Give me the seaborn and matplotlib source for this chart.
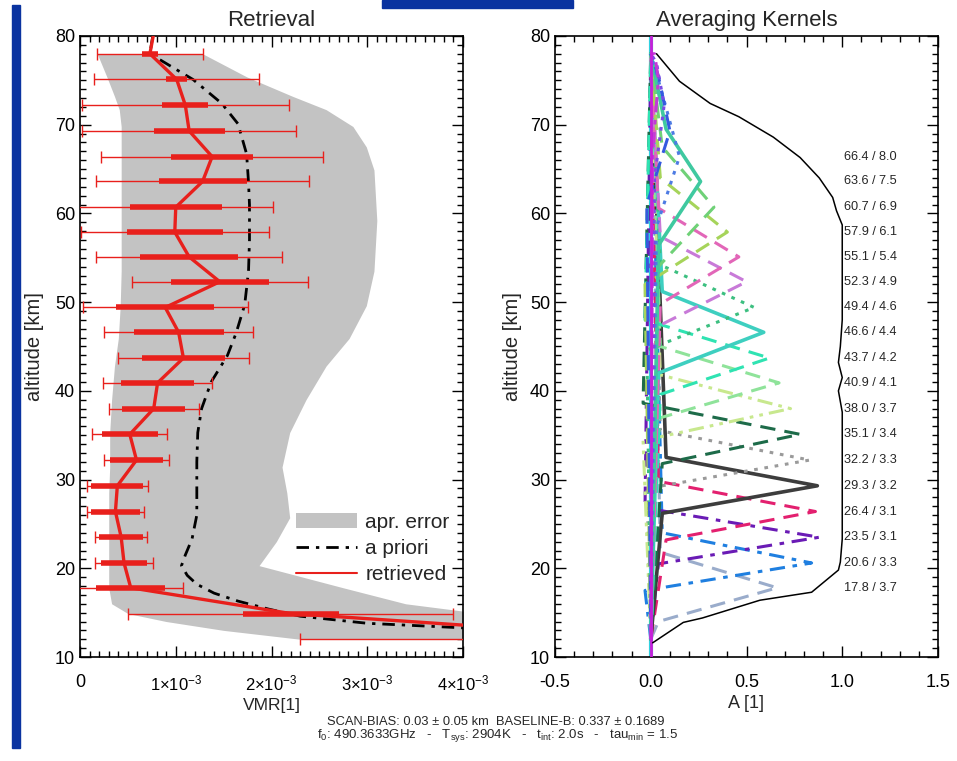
import numpy as np
import pandas as pd
import matplotlib
matplotlib.use("Agg")
import matplotlib.pyplot as plt
import seaborn as sns
from matplotlib.patches import Patch, Rectangle
from matplotlib.lines import Line2D
from matplotlib.ticker import MultipleLocator

# ---------------- data ----------------
# retrieval grid (km) and retrieved VMR (units of 1e-3)
levels = [80.9, 78.0, 75.1, 72.2, 69.3, 66.4, 63.6, 60.7, 57.9, 55.1, 52.3, 49.4,
          46.6, 43.7, 40.9, 38.0, 35.1, 32.2, 29.3, 26.4, 23.5, 20.6, 17.8, 14.9, 12.0]
retrieved = [0.78, 0.73, 1.01, 1.10, 1.14, 1.38, 1.28, 1.00, 0.99, 1.14, 1.46, 0.89,
             1.03, 1.08, 0.81, 0.77, 0.52, 0.59, 0.39, 0.37, 0.43, 0.46, 0.53, 2.20, 6.20]
total_err = [0.60, 0.55, 0.86, 1.08, 1.12, 1.16, 1.11, 1.02, 0.98, 0.97, 0.92, 0.86,
             0.78, 0.68, 0.57, 0.47, 0.39, 0.34, 0.32, 0.30, 0.27, 0.30, 0.55, 1.70, 3.90]
meas_err = [0.10, 0.08, 0.11, 0.24, 0.37, 0.43, 0.46, 0.48, 0.50, 0.51, 0.51, 0.51,
            0.47, 0.43, 0.38, 0.33, 0.29, 0.28, 0.27, 0.26, 0.23, 0.24, 0.36, 0.50, 1.50]

apriori_alt = [80.0, 78.0, 75.1, 72.4, 70.1, 66.7, 63.5, 61.0, 57.0, 53.5, 49.7, 46.5,
               44.0, 41.0, 38.0, 35.3, 32.0, 29.0, 26.0, 23.3, 21.5, 20.3, 19.2, 18.2,
               17.2, 16.3, 15.4, 14.6, 13.8, 12.0]
apriori_vmr = [0.76, 0.73, 1.18, 1.48, 1.65, 1.74, 1.76, 1.77, 1.77, 1.76, 1.72, 1.63,
               1.54, 1.37, 1.27, 1.23, 1.22, 1.22, 1.22, 1.17, 1.10, 1.06, 1.12, 1.22,
               1.40, 1.65, 1.97, 2.30, 3.00, 6.50]

band_alt = [78.0, 75.4, 73.2, 71.7, 69.8, 67.5, 64.9, 59.2, 53.5, 49.6, 45.9, 42.8, 39.0,
            35.3, 31.4, 28.5, 25.7, 23.0, 20.3, 17.8, 16.0, 14.9, 14.0, 13.0, 12.0]
band_lo = [0.18, 0.28, 0.36, 0.41, 0.43, 0.43, 0.43, 0.43, 0.43, 0.42, 0.40, 0.36, 0.33,
           0.31, 0.31, 0.30, 0.30, 0.30, 0.30, 0.30, 0.33, 0.50, 0.90, 1.50, 2.30]
band_hi = [1.28, 1.74, 2.22, 2.57, 2.85, 2.99, 3.07, 3.10, 3.07, 2.99, 2.81, 2.57, 2.36,
           2.19, 2.11, 2.16, 2.19, 2.05, 1.87, 2.75, 3.40, 4.20, 5.50, 7.00, 9.00]

vmr_ticks = [0, 1, 2, 3, 4]
vmr_ticklabels = ["0", "1×10$^{-3}$", "2×10$^{-3}$", "3×10$^{-3}$", "4×10$^{-3}$"]

# averaging kernels: peak altitude / resolution labels and vertices
ak_alt = [17.8, 20.6, 23.5, 26.4, 29.3, 32.2, 35.1, 38.0, 40.9, 43.7, 46.6, 49.4,
          52.3, 55.1, 57.9, 60.7, 63.6, 66.4, 69.3, 72.2, 75.1]
ak_res = [3.7, 3.3, 3.1, 3.1, 3.2, 3.3, 3.4, 3.7, 4.1, 4.2, 4.4, 4.6,
          4.9, 5.4, 6.1, 6.9, 7.5, 8.0, None, None, None]
ak_peak = [0.66, 0.84, 0.88, 0.86, 0.87, 0.83, 0.78, 0.73, 0.67, 0.62, 0.59, 0.54,
           0.50, 0.46, 0.40, 0.33, 0.26, 0.15, 0.10, 0.07, 0.04]
ak_lo_alt = [14.0, 17.5, 20.5, 23.2, 26.2, 29.0, 31.8, 34.4, 36.9, 39.6, 42.0, 44.6,
             47.3, 49.8, 52.0, 54.0, 56.4, 58.5, 61.0, 64.0, 67.0]
ak_lo_val = [0.04, -0.03, 0.04, 0.08, 0.06, -0.02, 0.06, -0.04, 0.04, 0.05, 0.04, -0.02,
             0.04, 0.05, -0.03, 0.04, 0.04, 0.03, -0.02, 0.02, 0.01]
ak_hi_alt = [21.8, 24.0, 26.8, 29.8, 32.5, 35.5, 38.6, 41.8, 45.0, 48.0, 51.2, 54.2,
             57.4, 60.6, 64.0, 67.5, 69.5, 73.5, 75.5, 77.0, 78.0]
ak_hi_val = [0.05, 0.06, -0.03, 0.04, 0.08, 0.05, -0.04, 0.05, 0.05, -0.03, 0.06, 0.05,
             0.05, 0.04, 0.05, 0.06, 0.08, 0.06, 0.04, 0.03, 0.02]
ak_end_alt = [12.0, 78.0]
ak_end_val = [0.0, 0.0]
flat_alt = [10.0, 80.0]
flat_val = [0.0, 0.0]

# measurement response (sum of kernels)
mr_alt = [78.0, 74.9, 72.4, 70.9, 68.6, 66.3, 64.0, 61.8, 60.3, 58.7, 48.0, 45.0, 43.2,
          41.5, 40.0, 37.6, 23.3, 20.7, 19.8, 17.3, 16.4, 14.4, 13.9, 11.6]
mr_val = [0.03, 0.15, 0.31, 0.46, 0.64, 0.78, 0.88, 0.95, 0.97, 1.00, 1.00, 0.99, 0.98,
          1.00, 0.98, 1.00, 1.00, 0.99, 0.98, 0.84, 0.57, 0.27, 0.17, 0.01]

# ---------------- styles ----------------
ak_colors = ["#9aaccb", "#1f7fe0", "#6a1bb5", "#e3206f", "#3d3d3d", "#9a9a9a", "#1d6b49",
             "#c8e88e", "#8fe39a", "#2fe3b2", "#3ecfc0", "#3cbf80", "#c87ad8", "#e266b8",
             "#a6d45a", "#6fd177", "#3fc9a0", "#4d7be3", "#3559e0", "#7a4be6", "#c23bd6"]
DASH = (0, (5, 3))
DDOT = (0, (5, 2.5, 1.5, 2.5))
DOT = (0, (1.2, 2.2))
D3 = (0, (5, 2, 1.2, 2, 1.2, 2))
ak_styles = [DASH, DDOT, DDOT, DASH, "-", DOT, DASH, D3, DASH, DASH, "-", DOT,
             DASH, DASH, DASH, DASH, "-", DOT, DASH, DOT, DDOT]

RED = "#e8201c"
GRAY = "#c3c3c3"
APRI_DASH = (0, (4.5, 2.5, 1.2, 2.5))

sns.set_theme(style="ticks")
plt.rcParams["font.family"] = ["Liberation Sans", "DejaVu Sans"]
plt.rcParams["mathtext.fontset"] = "custom"
plt.rcParams["mathtext.rm"] = "Liberation Sans"
plt.rcParams["mathtext.it"] = "Liberation Sans"
plt.rcParams["axes.linewidth"] = 1.2

W, H = 957, 761
fig = plt.figure(figsize=(W / 100, H / 100), dpi=100)
fig.patch.set_facecolor("white")

ax1 = fig.add_axes([80 / W, 1 - 657 / H, 383 / W, 621 / H])
ax2 = fig.add_axes([555 / W, 1 - 657 / H, 383 / W, 621 / H])

# slide decoration
fig.patches.append(Rectangle((12 / W, 1 - 748 / H), 8 / W, 743 / H,
                             transform=fig.transFigure, color="#0a33a0", zorder=0))
fig.patches.append(Rectangle((382 / W, 1 - 8 / H), 191 / W, 8 / H,
                             transform=fig.transFigure, color="#0a33a0", zorder=0))

# ---------------- left panel ----------------
ax1.fill_betweenx(band_alt, band_lo, band_hi, color=GRAY, lw=0, zorder=1)
sns.lineplot(x=apriori_vmr, y=apriori_alt, orient="y", sort=False, estimator=None,
             color="black", lw=2.0, linestyle=APRI_DASH, ax=ax1, zorder=2)
ax1.errorbar(retrieved, levels, xerr=total_err, fmt="none", ecolor=RED, elinewidth=1.0,
             capsize=4, capthick=1.0, zorder=3)
ax1.errorbar(retrieved, levels, xerr=meas_err, fmt="none", ecolor=RED, elinewidth=4.0,
             capsize=0, zorder=3)
sns.lineplot(x=retrieved, y=levels, orient="y", sort=False, estimator=None,
             color=RED, lw=2.4, ax=ax1, zorder=4)

ax1.set_xlim(0, 4)
ax1.set_ylim(10, 80)
ax1.set_xticks(vmr_ticks)
ax1.set_xticklabels(vmr_ticklabels)
ax1.xaxis.set_minor_locator(MultipleLocator(0.1))
ax1.set_yticks(range(10, 81, 10))
ax1.yaxis.set_minor_locator(MultipleLocator(1))
ax1.set_title("Retrieval", fontsize=16, pad=7)
ax1.set_xlabel("VMR[1]", fontsize=12.5, labelpad=3)
ax1.set_ylabel("altitude [km]", fontsize=14.5, labelpad=8)

handles = [Patch(facecolor=GRAY, edgecolor="none"),
           Line2D([], [], color="black", lw=2.0, linestyle=APRI_DASH),
           Line2D([], [], color=RED, lw=1.5)]
ax1.legend(handles, ["apr. error", "a priori", "retrieved"], loc="upper left",
           bbox_to_anchor=(0.565, 0.232), frameon=False, fontsize=15,
           handlelength=2.9, handletextpad=0.4, labelspacing=0.34,
           borderpad=0, borderaxespad=0)

# ---------------- right panel ----------------
sns.lineplot(x=flat_val, y=flat_alt, orient="y", sort=False, estimator=None,
             color="#30d0e0", lw=3.0, ax=ax2, zorder=2)
for i in range(len(ak_alt)):
    xs = [ak_end_val[0], ak_lo_val[i], ak_peak[i], ak_hi_val[i], ak_end_val[1]]
    ys = [ak_end_alt[0], ak_lo_alt[i], ak_alt[i], ak_hi_alt[i], ak_end_alt[1]]
    lw = 2.6 if ak_styles[i] == "-" else 2.2
    sns.lineplot(x=xs, y=ys, orient="y", sort=False, estimator=None,
                 color=ak_colors[i], lw=lw, linestyle=ak_styles[i], ax=ax2, zorder=3)
sns.lineplot(x=flat_val, y=flat_alt, orient="y", sort=False, estimator=None,
             color="#c81fd8", lw=2.0, ax=ax2, zorder=4)
sns.lineplot(x=mr_val, y=mr_alt, orient="y", sort=False, estimator=None,
             color="black", lw=1.1, ax=ax2, zorder=5)

for a, r in zip(ak_alt, ak_res):
    if r is not None:
        ax2.text(1.01, a, f"{a:.1f} / {r:.1f}", fontsize=9.2, ha="left", va="center",
                 zorder=6)

ax2.set_xlim(-0.5, 1.5)
ax2.set_ylim(10, 80)
ax2.set_xticks([-0.5, 0.0, 0.5, 1.0, 1.5])
ax2.set_xticklabels(["-0.5", "0.0", "0.5", "1.0", "1.5"])
ax2.xaxis.set_minor_locator(MultipleLocator(0.1))
ax2.set_yticks(range(10, 81, 10))
ax2.yaxis.set_minor_locator(MultipleLocator(1))
ax2.set_title("Averaging Kernels", fontsize=16, pad=7)
ax2.set_xlabel("A [1]", fontsize=13, labelpad=3)
ax2.set_ylabel("altitude [km]", fontsize=14.5, labelpad=6)

for ax in (ax1, ax2):
    ax.tick_params(which="both", direction="in", top=True, right=True,
                   labelsize=13, width=1.0, colors="black")
    ax.tick_params(which="major", length=8)
    ax.tick_params(which="minor", length=4)
    ax.tick_params(axis="x", which="major", pad=12)
    for s in ax.spines.values():
        s.set_color("black")
        s.set_linewidth(1.2)
for k, lab in enumerate(ax1.get_xticklabels()):
    lab.set_fontsize(13 if k == 0 else 12)

fig.text(0.518, 1 - 722 / H, "SCAN-BIAS: 0.03 ± 0.05 km  BASELINE-B: 0.337 ± 0.1689",
         ha="center", va="center", fontsize=9.3)
fig.text(0.52, 1 - 736 / H,
         "f$_0$: 490.3633GHz   -   T$_{sys}$: 2904K   -   t$_{int}$: 2.0s   -   tau$_{min}$ = 1.5",
         ha="center", va="center", fontsize=9.5)

fig.savefig("out.png", dpi=100, facecolor="white")
